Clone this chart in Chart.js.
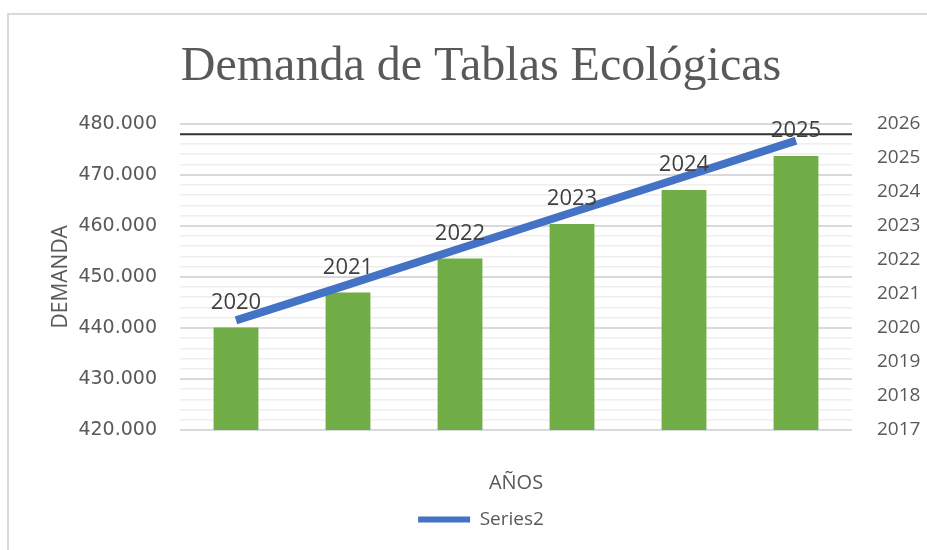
<!DOCTYPE html>
<html>
<head>
<meta charset="utf-8">
<script src="https://cdn.jsdelivr.net/npm/chart.js@4.4.1/dist/chart.umd.min.js"></script>
<style>
    html, body { margin: 0; padding: 0; background: #fff; }
    #wrap { position: relative; width: 927px; height: 550px; overflow: hidden; }
    #frame {
        position: absolute; left: 7px; top: 13px; width: 1000px; height: 600px;
        border-top: 2px solid #d9d9d9; border-left: 2px solid #d9d9d9;
    }
    canvas { position: absolute; left: 0; top: 0; }
</style>
</head>
<body>
<div id="wrap">
    <div id="frame"></div>
    <canvas id="chart" width="927" height="550"></canvas>
</div>
<script>
const years = ['2020', '2021', '2022', '2023', '2024', '2025'];
const demanda = [440070, 446950, 453580, 460330, 467020, 473650];
const series2 = [2020.22, 2021.27, 2022.33, 2023.39, 2024.44, 2025.50];

const leftMin = 420000, leftMax = 480000, majorStep = 10000, minorStep = 2000;
const rightMin = 2017, rightMax = 2026;
const blackLineValue = 477900;

const GREEN = '#70ad47';
const BLUE = '#4472c4';
const TEXT = '#595959';

const fmt = v => v.toLocaleString('de-DE');

// labels with the year above every bar
const barLabels = {
    id: 'barLabels',
    afterDatasetsDraw(chart) {
        const meta = chart.getDatasetMeta(0);
        const ctx = chart.ctx;
        ctx.save();
        ctx.font = '22px "Open Sans"';
        ctx.fillStyle = '#404040';
        ctx.textAlign = 'center';
        ctx.textBaseline = 'middle';
        meta.data.forEach((bar, i) => {
            ctx.fillText(years[i], bar.x, bar.y - 25);
        });
        ctx.restore();
    }
};

// dark horizontal rule near the top of the plot
const topRule = {
    id: 'topRule',
    beforeDatasetsDraw(chart) {
        const { ctx, chartArea, scales } = chart;
        const y = scales.y.getPixelForValue(blackLineValue);
        ctx.save();
        ctx.strokeStyle = '#333333';
        ctx.lineWidth = 2;
        ctx.beginPath();
        ctx.moveTo(chartArea.left, y);
        ctx.lineTo(chartArea.right, y);
        ctx.stroke();
        ctx.restore();
    }
};

new Chart(document.getElementById('chart'), {
    type: 'bar',
    data: {
        labels: years,
        datasets: [{
            label: 'Series1',
            data: demanda,
            backgroundColor: GREEN,
            categoryPercentage: 1,
            barPercentage: 0.4,
            yAxisID: 'y',
            order: 2
        }, {
            type: 'line',
            label: 'Series2',
            data: series2,
            borderColor: BLUE,
            backgroundColor: BLUE,
            borderWidth: 8,
            pointRadius: 0,
            tension: 0,
            yAxisID: 'y1',
            order: 1
        }]
    },
    options: {
        responsive: false,
        animation: false,
        layout: { padding: { left: 40, right: 5, top: 10, bottom: 11 } },
        plugins: {
            title: {
                display: true,
                text: 'Demanda de Tablas Ecológicas',
                color: TEXT,
                font: { family: '"Liberation Serif"', size: 48, weight: 'normal' },
                padding: { top: 29, bottom: 27 }
            },
            legend: {
                position: 'bottom',
                labels: {
                    color: TEXT,
                    font: { family: '"Open Sans"', size: 19 },
                    boxWidth: 52,
                    boxHeight: 6,
                    generateLabels: chart => Chart.defaults.plugins.legend.labels.generateLabels(chart)
                        .filter(l => l.datasetIndex === 1)
                        .map(l => ({ ...l, lineWidth: 0, fillStyle: BLUE }))
                }
            },
            tooltip: { enabled: false }
        },
        scales: {
            x: {
                grid: { display: false },
                border: { display: false },
                ticks: { display: false },
                title: {
                    display: true,
                    text: 'AÑOS',
                    color: TEXT,
                    font: { family: '"Open Sans"', size: 20 },
                    padding: { top: 33, bottom: 5 }
                }
            },
            y: {
                min: leftMin,
                max: leftMax,
                border: { display: false },
                afterFit: s => { s.width = 140; },
                grid: {
                    drawTicks: false,
                    color: c => c.tick.value % majorStep === 0 ? '#d9d9d9' : '#eeeeee',
                    lineWidth: c => c.tick.value % majorStep === 0 ? 2 : 1.5
                },
                ticks: {
                    stepSize: minorStep,
                    autoSkip: false,
                    padding: 23,
                    color: TEXT,
                    font: { family: '"DejaVu Sans"', size: 19 },
                    callback: v => v % majorStep === 0 ? fmt(v) : ''
                },
                title: {
                    display: true,
                    text: 'DEMANDA',
                    color: TEXT,
                    font: { family: '"Open Sans"', size: 21 },
                    padding: { top: 8, bottom: 8 }
                }
            },
            y1: {
                position: 'right',
                min: rightMin,
                max: rightMax,
                border: { display: false },
                afterFit: s => { s.width = 70; },
                grid: { display: false, drawTicks: false },
                ticks: {
                    stepSize: 1,
                    autoSkip: false,
                    padding: 25,
                    color: TEXT,
                    font: { family: '"Open Sans"', size: 19 },
                    callback: v => String(v)
                }
            }
        }
    },
    plugins: [topRule, barLabels]
});
</script>
</body>
</html>
